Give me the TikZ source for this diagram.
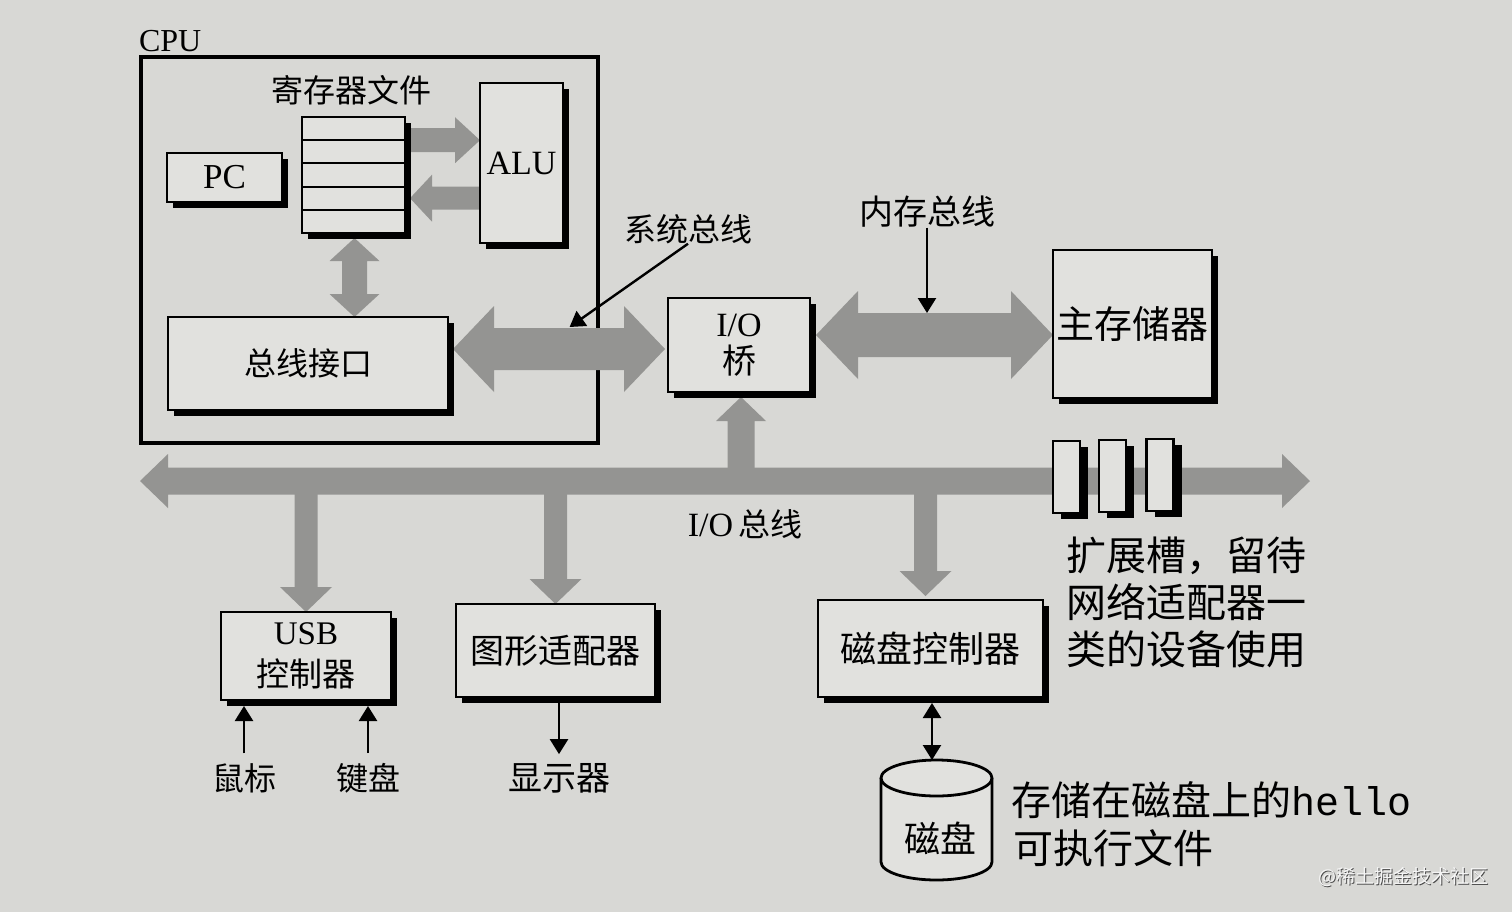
\documentclass[tikz,border=0pt]{standalone}
\usepackage{fontspec}
\setmainfont{Liberation Serif}
\newfontfamily\cjk{Noto Sans CJK SC}
\newfontfamily\monof{Liberation Mono}
\usetikzlibrary{calc,shadows,arrows.meta}
\definecolor{paper}{RGB}{216,216,213}
\definecolor{boxfill}{RGB}{225,225,222}
\definecolor{busgray}{RGB}{148,148,146}
\pgfdeclarelayer{back}
\pgfdeclarelayer{mid}
\pgfsetlayers{back,mid,main}
% single fat arrow: #1 tail, #2 tip, #3 shaft half width, #4 head half width, #5 head length
\newcommand\fatarrow[5]{%
  \coordinate (fatc) at ($(#2)!#5!(#1)$);
  \fill[busfill] ($(#1)!#3!90:(#2)$) -- ($(fatc)!#3!90:(#2)$) -- ($(fatc)!#4!90:(#2)$) -- (#2)
    -- ($(fatc)!#4!-90:(#2)$) -- ($(fatc)!#3!-90:(#2)$) -- ($(#1)!#3!-90:(#2)$) -- cycle;}
% double fat arrow
\newcommand\fatdarrow[5]{%
  \coordinate (fatca) at ($(#1)!#5!(#2)$);
  \coordinate (fatcb) at ($(#2)!#5!(#1)$);
  \fill[busfill] (#1) -- ($(fatca)!#4!90:(#2)$) -- ($(fatca)!#3!90:(#2)$) -- ($(fatcb)!#3!90:(#2)$)
    -- ($(fatcb)!#4!90:(#2)$) -- (#2) -- ($(fatcb)!#4!-90:(#2)$) -- ($(fatcb)!#3!-90:(#2)$)
    -- ($(fatca)!#3!-90:(#2)$) -- ($(fatca)!#4!-90:(#2)$) -- cycle;}
\begin{document}
\begin{tikzpicture}[x=0.5pt,y=-0.5pt,
  hwbox/.style={draw, line width=1.3pt, fill=boxfill, inner sep=0pt, outer sep=0pt,
    general shadow={fill=black, shadow xshift=3pt, shadow yshift=-3pt}},
  slotbox/.style={draw, line width=1.2pt, fill=boxfill, inner sep=0pt, outer sep=0pt,
    minimum width=13.5pt, minimum height=36pt,
    general shadow={fill=black, shadow xshift=4pt, shadow yshift=-3pt}},
  plainlbl/.style={inner sep=0pt, outer sep=0pt},
  zhfont/.style={font=\cjk\fontsize{#1}{#1}\selectfont},
  enfont/.style={font=\fontsize{#1}{#1}\selectfont},
  busfill/.style={fill=busgray},
  thinarrow/.style={line width=1.2pt, -{Triangle[length=7.5pt,width=9pt]}},
  thindarrow/.style={line width=1.2pt, {Triangle[length=7.5pt,width=9pt]}-{Triangle[length=7.5pt,width=9pt]}}]

\useasboundingbox (0,0) rectangle (1512,912);

\begin{pgfonlayer}{back}
  \fill[paper] (0,0) rectangle (1512,912);
  \node[draw, line width=1.7pt, inner sep=0pt, outer sep=0pt,
        minimum width=228.5pt, minimum height=193pt] (cpu) at (369.5,250) {};
\end{pgfonlayer}

% ---- CPU contents ----
\node[plainlbl, enfont=16, anchor=base west] (cpulbl) at (139,51) {CPU};
\node[plainlbl, zhfont=16] (rflbl) at (351,90) {寄存器文件};
\node[hwbox, minimum width=51.5pt, minimum height=58pt] (rf) at (353.5,175) {};
\foreach \f in {0.2,0.4,0.6,0.8}
  \draw[line width=1pt] ($(rf.north west)!\f!(rf.south west)$) -- ($(rf.north east)!\f!(rf.south east)$);
\node[hwbox, enfont=17.5, minimum width=57.5pt, minimum height=24.5pt] (pc) at (224.5,177.5) {PC};
\node[hwbox, enfont=17, minimum width=41.5pt, minimum height=80pt] (alu) at (521.5,163) {\raisebox{-2pt}{ALU}};
\node[hwbox, zhfont=16, minimum width=140pt, minimum height=46.5pt] (bi) at (308,363.5) {总线接口};

% ---- other boxes ----
\node[hwbox, align=center, font=\fontsize{17}{18.5}\selectfont,
      minimum width=71pt, minimum height=47pt] (iob) at (739,345) {I/O\\{\cjk 桥}};
\node[hwbox, zhfont=19, minimum width=79.5pt, minimum height=74pt] (mem) at (1132.5,324) {主存储器};
\node[hwbox, align=center, font=\fontsize{16.5}{21}\selectfont,
      minimum width=85pt, minimum height=44pt] (usb) at (306,656) {USB\\{\cjk 控制器}};
\node[hwbox, zhfont=17, minimum width=99.5pt, minimum height=46.5pt] (gfx) at (555.5,650.5) {图形适配器};
\node[hwbox, zhfont=18, minimum width=112.5pt, minimum height=48.5pt] (dc) at (930.5,648.5) {磁盘控制器};
\node[slotbox] (s1) at (1066.5,477) {};
\node[slotbox] (s2) at (1112.5,476) {};
\node[slotbox] (s3) at (1160,475) {};

% ---- labels ----
\node[plainlbl, zhfont=16] (sbl) at (688,229) {系统总线};
\node[plainlbl, zhfont=17] (mbl) at (927,212) {内存总线};
\node[plainlbl] (iobl) at (745,524) {{\fontsize{17}{17}\selectfont I/O} {\cjk\fontsize{16}{16}\selectfont 总线}};
\node[plainlbl, align=left, anchor=west, font=\cjk\fontsize{20}{23.5}\selectfont] (slotl) at (1066,602)
  {扩展槽，留待\\网络适配器一\\类的设备使用};
\node[plainlbl, zhfont=16] (mouse) at (244,778) {鼠标};
\node[plainlbl, zhfont=16] (kbd) at (368,778) {键盘};
\node[plainlbl, zhfont=17] (disp) at (559,778) {显示器};

% ---- disk ----
\coordinate (disk) at (936.5,778);
\coordinate (disktop) at (936.5,760);
\draw[line width=1.4pt, fill=boxfill] (881,778) -- (881,862)
   arc[start angle=180, end angle=360, x radius=27.75pt, y radius=9pt] -- (992,778);
\draw[line width=1.4pt, fill=boxfill] (disk) ellipse [x radius=27.75pt, y radius=9pt];
\node[plainlbl, zhfont=18] (disklbl) at (940,838) {磁盘};
\node[plainlbl, anchor=west, zhfont=20] (hl1) at (1011,800) {存储在磁盘上的{\monof hello}};
\node[plainlbl, anchor=west, zhfont=20] (hl2) at (1013,848) {可执行文件};

% ---- watermark ----
\node[plainlbl, font=\cjk\fontsize{9.5}{9.5}\selectfont, text=gray!60!black, anchor=east] (wmsh) at (1489,878) {@稀土掘金技术社区};
\node[plainlbl, font=\cjk\fontsize{9.5}{9.5}\selectfont, text=white!92!gray, anchor=east] (wm) at (1488,877) {@稀土掘金技术社区};

% ---- fat buses ----
\begin{pgfonlayer}{mid}
  \coordinate (a1s) at ($(rf.north east)!0.2!(rf.south east) + (6,0)$);
  \coordinate (a1e) at (alu.west |- a1s);
  \fatarrow{a1s}{a1e}{6pt}{11.5pt}{12.5pt}
  \coordinate (a2t) at ($(rf.north east)!0.7!(rf.south east) + (5,0)$);
  \coordinate (a2s) at (alu.west |- a2t);
  \fatarrow{a2s}{a2t}{5.75pt}{11.75pt}{11pt}
  \coordinate (a3t) at ($(rf.south)+(1,5)$);
  \coordinate (a3b) at (a3t |- bi.north);
  \fatdarrow{a3t}{a3b}{6.25pt}{12.5pt}{11.5pt}
  \coordinate (sbA) at ($(bi.east |- iob.west) + (5,4)$);
  \coordinate (sbB) at ($(iob.west)+(-3,4)$);
  \fatdarrow{sbA}{sbB}{10.5pt}{21.5pt}{20.5pt}
  \coordinate (mbA) at ($(iob.east)+(6,-10)$);
  \coordinate (mbB) at (mem.west |- mbA);
  \fatdarrow{mbA}{mbB}{11pt}{22pt}{21pt}
  \coordinate (busL) at (140,481);
  \coordinate (busR) at (1310,481);
  \fatdarrow{busL}{busR}{6.75pt}{13.5pt}{14pt}
  \coordinate (bu) at (usb.north |- busL);
  \fatarrow{bu}{usb.north}{5.75pt}{13pt}{12.5pt}
  \coordinate (bg) at (gfx.north |- busL);
  \fatarrow{bg}{gfx.north}{5.75pt}{13pt}{12.5pt}
  \coordinate (bd) at ($(dc.north |- busL)+(-5,0)$);
  \coordinate (bdt) at ($(dc.north)+(-5,-4)$);
  \fatarrow{bd}{bdt}{5.75pt}{13pt}{12.5pt}
  \coordinate (bio) at ($(iob.south |- busL)+(2,0)$);
  \coordinate (biot) at ($(iob.south)+(2,5)$);
  \fatarrow{bio}{biot}{6.75pt}{12.5pt}{12pt}
\end{pgfonlayer}

% ---- thin pointers ----
\coordinate (sbp) at ($(sbA)!0.55!(sbB) + (0,-22)$);
\draw[thinarrow] (sbl.south) -- (sbp);
\coordinate (mbp) at ($(mbA)!0.47!(mbB) + (0,-22)$);
\draw[thinarrow] (mbl.south) -- (mbl.south |- mbp);
\coordinate (usbb) at ($(usb.south)+(0,6)$);
\draw[thinarrow, shorten <=5pt] (mouse.north) -- (mouse.north |- usbb);
\draw[thinarrow, shorten <=5pt] (kbd.north) -- (kbd.north |- usbb);
\coordinate (gfxb) at ($(gfx.south)+(0,6)$);
\draw[thinarrow, shorten >=4.5pt] (disp.north |- gfxb) -- (disp.north);
\coordinate (dcb) at ($(dc.south)+(1.5,6)$);
\draw[thindarrow] (dcb) -- (dcb |- disktop);
\end{tikzpicture}
\end{document}
